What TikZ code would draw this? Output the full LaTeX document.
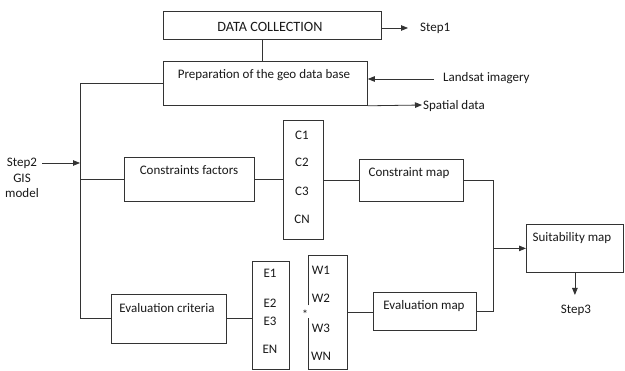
\documentclass[tikz,border=0pt]{standalone}
\usepackage{fontspec}
\setmainfont{Carlito}
\usetikzlibrary{arrows.meta,calc}
\begin{document}
\begin{tikzpicture}[x=1pt,y=-1pt,
  line/.style={draw=black!80, line width=0.8pt},
  box/.style={line, rectangle, inner sep=0pt, anchor=north west},
  txt/.style={inner sep=0pt, font=\fontsize{13}{15}\selectfont, text=black!90},
  arr/.style={line, -{Triangle[length=7pt,width=5.5pt]}}]
\useasboundingbox (0,0) rectangle (625,371);
\fill[white] (0,0) rectangle (625,371);

% boxes
\node[box, minimum width=218pt, minimum height=28pt] (dc) at (163,11) {};
\node[box, minimum width=204pt, minimum height=44pt] (prep) at (163,61) {};
\node[box, minimum width=130pt, minimum height=44pt] (cf) at (124,157) {};
\node[box, minimum width=40pt, minimum height=119pt] (cbox) at (283,120) {};
\node[box, minimum width=104pt, minimum height=42pt] (cmap) at (359,159) {};
\node[box, minimum width=97pt, minimum height=48pt] (suit) at (526,224) {};
\node[box, minimum width=115pt, minimum height=49pt] (ec) at (111,294) {};
\node[box, minimum width=37pt, minimum height=108pt] (ebox) at (252,261) {};
\node[box, draw=none, minimum width=39pt, minimum height=114pt] (wbox) at (308,255) {};
\draw[line] ($(wbox.west)+(0,-7)$) -- (wbox.north west) -- (wbox.north east)
  -- (wbox.south east) -- (wbox.south west) -- ($(wbox.west)+(0,6)$);
\node[box, minimum width=103pt, minimum height=38pt] (emap) at (373,292) {};

% texts
\node[txt, font=\fontsize{14.2}{16}\selectfont] (tdc) at (270,27) {DATA COLLECTION};
\node[txt] (tprep) at (264,75) {Preparation of the geo data base};
\node[txt, anchor=west] (tstep1) at (420,28) {Step1};
\node[txt, anchor=west] (tland) at (443,78) {Landsat imagery};
\node[txt, anchor=west] (tspat) at (423,106) {Spatial data};
\node[txt] (tstep2) at (22,163) {Step2};
\node[txt] (tgis) at (22,178) {GIS};
\node[txt] (tmodel) at (22,193) {model};
\node[txt] (tcf) at (189,170) {Constraints factors};
\node[txt] (tc1) at (302,135) {C1};
\node[txt] (tc2) at (302,162) {C2};
\node[txt] (tc3) at (302,191) {C3};
\node[txt] (tcn) at (302,219) {CN};
\node[txt] (tcmap) at (409,173) {Constraint map};
\node[txt] (tsuit) at (572,238) {Suitability map};
\node[txt] (tstep3) at (576,310) {Step3};
\node[txt] (tec) at (167,308) {Evaluation criteria};
\node[txt] (te1) at (270,273) {E1};
\node[txt] (te2) at (270,303) {E2};
\node[txt] (te3) at (270,321) {E3};
\node[txt] (ten) at (270,349) {EN};
\node[txt, font=\fontsize{12}{13}\selectfont] (tstar) at (305,314) {*};
\node[txt] (tw1) at (321,270) {W1};
\node[txt] (tw2) at (321,298) {W2};
\node[txt] (tw3) at (321,328) {W3};
\node[txt] (twn) at (321,356) {WN};
\node[txt] (temap) at (424,306) {Evaluation map};

% connectors
\coordinate (vt) at (262,0);
\coordinate (vl) at (80,0);
\coordinate (vr) at (493,0);
\coordinate (s1) at (408,28);
\coordinate (ls) at (434,79);
\coordinate (sp) at (422,105);
\coordinate (s2) at (42,163);
\coordinate (s3) at (0,295);

\draw[line] (vt |- dc.south) -- (vt |- prep.north);
\draw[arr] (s1 -| dc.east) -- (s1);
\draw[arr] (ls) -- (ls -| prep.east);
\draw[arr] (prep.south east) -- (sp);
\draw[line] (prep.west) -- (vl |- prep.west) -- (vl |- ec.west) -- (ec.west);
\draw[arr] (s2) -- (s2 -| vl);
\draw[line] (vl |- cf.west) -- (cf.west);
\draw[line] (cf.east) -- (cbox.west |- cf.east);
\draw[line] (cbox.east |- cmap.west) -- (cmap.west);
\draw[line] (cmap.east) -- (vr |- cmap.east) -- (vr |- emap.east) -- (emap.east);
\draw[arr] (vr |- suit.west) -- (suit.west);
\draw[arr] (suit.south) -- (suit.south |- s3);
\draw[line] (ec.east) -- (ebox.west |- ec.east);
\draw[line] (wbox.east) -- (emap.west |- wbox.east);
\end{tikzpicture}
\end{document}
